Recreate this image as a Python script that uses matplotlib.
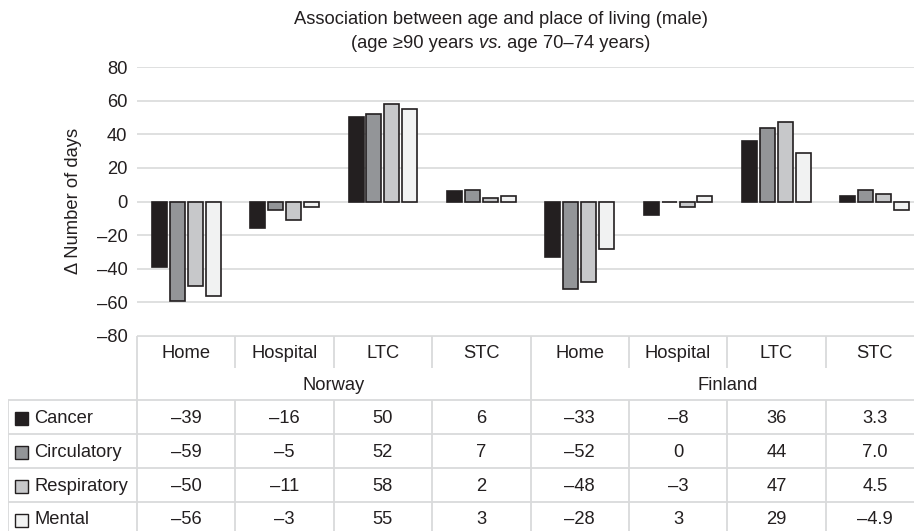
import numpy as np
import matplotlib.pyplot as plt
from matplotlib.patches import Rectangle

plt.rcParams['font.family'] = ['Liberation Sans', 'DejaVu Sans']

# data
places = ["Home", "Hospital", "LTC", "STC", "Home", "Hospital", "LTC", "STC"]
countries = ["Norway", "Finland"]
causes = ["Cancer", "Circulatory", "Respiratory", "Mental"]
cancer = [-39, -16, 50, 6, -33, -8, 36, 3.3]
circulatory = [-59, -5, 52, 7, -52, 0, 44, 7.0]
respiratory = [-50, -11, 58, 2, -48, -3, 47, 4.5]
mental = [-56, -3, 55, 3, -28, 3, 29, -4.9]
decimals = [0, 0, 0, 0, 0, 0, 0, 1]
yticks = [-80, -60, -40, -20, 0, 20, 40, 60, 80]

series = [cancer, circulatory, respiratory, mental]
colors = ["#231f20", "#939598", "#c7c8ca", "#f1f2f2"]
ink = "#231f20"
grid = "#dcdddd"
fs = 13.2

W, H = 914, 531
fig = plt.figure(figsize=(W / 100, H / 100), dpi=100)


def px_axes(left, top, width, height):
    return fig.add_axes([left / W, 1 - (top + height) / H, width / W, height / H])


def fmt(v, d):
    s = f"{abs(v):.{d}f}"
    return ("\u2013" + s) if v < 0 else s


# bar area: 8 columns of ~98 px starting at x=137
colw = 98.375
ax = px_axes(137, 67, 8 * colw, 269)
ax.set_xlim(0, 8)
ax.set_ylim(-80, 80)
for s in ax.spines.values():
    s.set_visible(False)
ax.set_xticks([])
ax.set_yticks(yticks)
ax.set_yticklabels([fmt(t, 0) for t in yticks], fontsize=fs, color=ink)
ax.tick_params(axis='y', length=0, pad=7)
for t in yticks:
    ax.axhline(t, color=grid, lw=1.3, zorder=0)

x = np.arange(len(places)) + 0.5
bw = 15 / colw
step = 17.9 / colw
for i, vals in enumerate(series):
    ax.bar(x + (i - 1.5) * step, vals, width=bw, color=colors[i],
           edgecolor=ink, linewidth=1.2, zorder=3)

fig.text(73 / W, 1 - 201 / H, "\u0394 Number of days", rotation=90,
         ha='center', va='center', fontsize=fs, color=ink)

fig.text(501 / W, 1 - 20 / H, "Association between age and place of living (male)",
         ha='center', va='center', fontsize=fs, color=ink)

# second title line with italic "vs.", laid out piece by piece
pieces = [("(age \u226590 years ", 'normal'), ("vs.", 'italic'),
          (" age 70\u201374 years)", 'normal')]
renderer = fig.canvas.get_renderer()
texts = [fig.text(0, 1 - 44 / H, s, style=st, ha='left', va='center',
                  fontsize=fs, color=ink) for s, st in pieces]
widths = [t.get_window_extent(renderer).width for t in texts]
xpos = 501 - sum(widths) / 2
for t, w in zip(texts, widths):
    t.set_x(xpos / W)
    xpos += w

# data table under the bars, y in pixels downward from the top of the table
x0 = -129 / colw
tab = px_axes(8, 336, 8 * colw + 129, 200)
tab.set_xlim(x0, 8)
tab.set_ylim(200, 0)
tab.axis('off')

lk = dict(color="#d9dadb", lw=1.3, solid_capstyle='butt')
tab.plot([0, 8], [0, 0], **lk)
for yy in [64, 98, 132, 166, 200]:
    tab.plot([x0, 8], [yy, yy], **lk)
tab.plot([x0, x0], [64, 200], **lk)
for c in range(9):
    if c in (0, 4, 8):
        tab.plot([c, c], [0, 200], **lk)
    else:
        tab.plot([c, c], [0, 32], **lk)
        tab.plot([c, c], [64, 200], **lk)

for c, name in enumerate(places):
    tab.text(c + 0.5, 17, name, ha='center', va='center', fontsize=fs, color=ink)
for k, name in enumerate(countries):
    tab.text(4 * k + 2, 49, name, ha='center', va='center', fontsize=fs, color=ink)

for r, (name, vals) in enumerate(zip(causes, series)):
    yc = 82 + 34 * r
    tab.add_patch(Rectangle(((15 - 137) / colw, yc - 6.5), 13 / colw, 13,
                            facecolor=colors[r], edgecolor=ink, lw=1.0))
    tab.text((34 - 137) / colw, yc, name, ha='left', va='center',
             fontsize=fs, color=ink)
    for c, v in enumerate(vals):
        tab.text(c + 0.5, yc, fmt(v, decimals[c]), ha='center', va='center',
                 fontsize=fs, color=ink)

fig.savefig("out.png", dpi=100)
